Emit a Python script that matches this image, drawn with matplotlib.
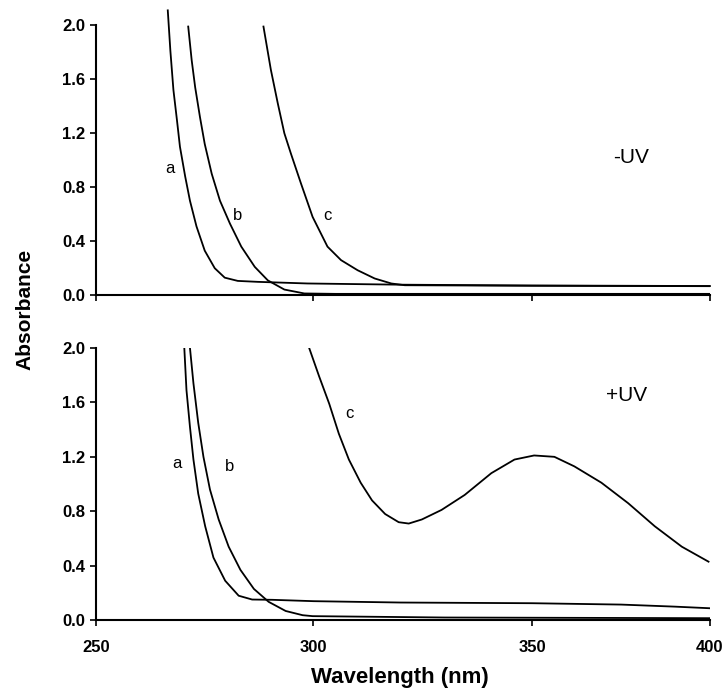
import matplotlib
matplotlib.use('Agg')
import matplotlib.pyplot as plt
import numpy as np

plt.rcParams['font.family'] = ['Liberation Sans', 'DejaVu Sans']

# -UV panel (wavelength in nm, absorbance)
top_a_wl = [266.5, 267.1, 267.8, 268.6, 269.3, 270.5, 271.6, 273.1, 275.0, 277.3, 279.6, 282.6, 287.2,
            298.6, 320, 350, 400]
top_a_ab = [2.11, 1.81, 1.52, 1.30, 1.10, 0.88, 0.70, 0.51, 0.33, 0.20, 0.13, 0.106, 0.099,
            0.087, 0.078, 0.072, 0.068]
top_b_wl = [271.2, 272.0, 272.8, 273.9, 275.0, 276.6, 278.5, 280.8, 283.4, 286.5, 289.5, 293.3, 297.9,
            305, 330, 400]
top_b_ab = [1.99, 1.74, 1.54, 1.32, 1.12, 0.90, 0.70, 0.53, 0.36, 0.21, 0.11, 0.042, 0.013,
            0.01, 0.01, 0.01]
top_c_wl = [288.5, 290.2, 291.8, 293.3, 294.8, 297.1, 299.8, 303.2, 306.3, 310.1, 314.0, 317.8, 320.9,
            350, 400]
top_c_ab = [1.99, 1.67, 1.42, 1.20, 1.05, 0.83, 0.58, 0.36, 0.26, 0.185, 0.124, 0.087, 0.074,
            0.07, 0.067]

# +UV panel
bot_a_wl = [270.3, 270.8, 271.6, 272.4, 273.5, 275.1, 277.0, 279.7, 282.8, 285.9, 290.5, 300, 320,
            350, 375, 390, 400]
bot_a_ab = [2.0, 1.69, 1.42, 1.18, 0.93, 0.69, 0.46, 0.29, 0.18, 0.152, 0.15, 0.14, 0.13,
            0.125, 0.115, 0.10, 0.088]
bot_b_wl = [271.6, 272.4, 273.5, 274.7, 276.2, 278.2, 280.5, 283.2, 286.3, 289.7, 293.6, 297.5, 299.8,
            330, 400]
bot_b_ab = [2.0, 1.74, 1.45, 1.20, 0.96, 0.74, 0.54, 0.37, 0.23, 0.135, 0.068, 0.037, 0.03,
            0.02, 0.015]
bot_c_wl = [299.0, 301.3, 303.6, 305.8, 308.1, 310.8, 313.4, 316.4, 319.5, 321.8, 324.8, 329.3, 334.6,
            340.7, 346.0, 350.6, 356.3, 361.9, 369.5, 377.0, 384.5, 392.1, 399.6]
bot_c_ab = [2.0, 1.79, 1.59, 1.37, 1.18, 1.01, 0.88, 0.78, 0.72, 0.71, 0.74, 0.81, 0.92,
            1.08, 1.18, 1.21, 1.20, 1.13, 1.01, 0.86, 0.69, 0.54, 0.43]

yticks = [0.0, 0.4, 0.8, 1.2, 1.6, 2.0]
xticks = [250, 300, 350, 400]
# the printed wavelength axis is not evenly spaced; follow its tick spacing
x_breaks = [0.0, 217.5, 436.0, 614.0]


def fwd(x):
    return np.interp(x, xticks, x_breaks)


def inv(x):
    return np.interp(x, x_breaks, xticks)


fig = plt.figure(figsize=(7.24, 6.93), dpi=100)
ax1 = fig.add_axes([0.1326, 0.574, 0.848, 0.413])
ax2 = fig.add_axes([0.1326, 0.105, 0.848, 0.393])


def style(ax, ytop):
    ax.set_xscale('function', functions=(fwd, inv))
    ax.set_xlim(250, 400)
    ax.set_ylim(0, ytop)
    for s in ['top', 'right']:
        ax.spines[s].set_visible(False)
    ax.spines['left'].set_bounds(0, 2.0)
    ax.spines['left'].set_linewidth(1.5)
    ax.spines['bottom'].set_linewidth(1.5)
    ax.set_yticks(yticks)
    ax.set_yticklabels(['%.1f' % v for v in yticks], fontsize=12, fontweight='bold')
    ax.set_xticks(xticks)
    ax.minorticks_off()
    ax.tick_params(direction='out', length=4, width=1.2)


lw = 1.3
ax1.plot(top_a_wl, top_a_ab, color='black', lw=lw, clip_on=False)
ax1.plot(top_b_wl, top_b_ab, color='black', lw=lw)
ax1.plot(top_c_wl, top_c_ab, color='black', lw=lw)
style(ax1, 2.12)
ax1.set_xticklabels([])
ax1.text(266.9, 0.94, 'a', fontsize=12, ha='center', va='center')
ax1.text(282.6, 0.59, 'b', fontsize=12, ha='center', va='center')
ax1.text(303.2, 0.59, 'c', fontsize=12, ha='center', va='center')
ax1.text(377.7, 1.02, '-UV', fontsize=15, ha='center', va='center')

ax2.plot(bot_a_wl, bot_a_ab, color='black', lw=lw)
ax2.plot(bot_b_wl, bot_b_ab, color='black', lw=lw)
ax2.plot(bot_c_wl, bot_c_ab, color='black', lw=lw)
style(ax2, 2.0)
ax2.set_xticklabels([str(v) for v in xticks], fontsize=12, fontweight='bold')
ax2.tick_params(axis='x', pad=10)
ax2.text(268.5, 1.15, 'a', fontsize=12, ha='center', va='center')
ax2.text(280.8, 1.13, 'b', fontsize=12, ha='center', va='center')
ax2.text(308.2, 1.52, 'c', fontsize=12, ha='center', va='center')
ax2.text(376.6, 1.65, '+UV', fontsize=15, ha='center', va='center')

fig.text(0.035, 0.553, 'Absorbance', rotation=90, fontsize=15, fontweight='bold',
         ha='center', va='center')
fig.text(0.552, 0.022, 'Wavelength (nm)', fontsize=16, fontweight='bold',
         ha='center', va='center')

fig.savefig('out.png', dpi=100)
